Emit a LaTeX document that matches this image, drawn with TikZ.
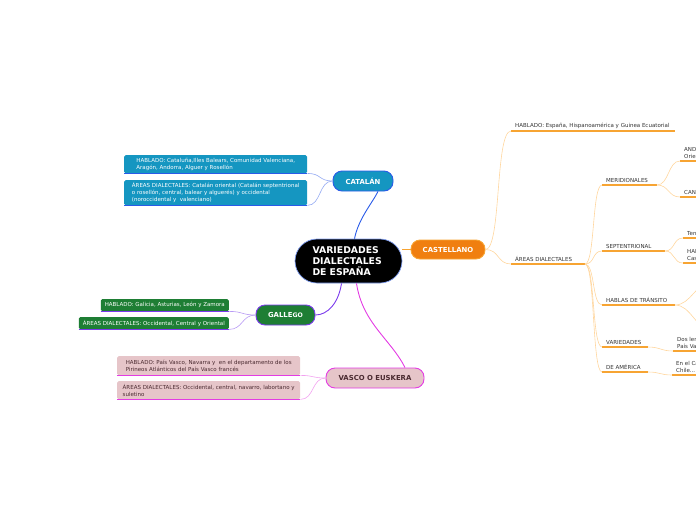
\documentclass[tikz,border=0pt]{standalone}
\usepackage{fontspec}
\setmainfont{DejaVu Sans}
\usetikzlibrary{calc}
\definecolor{catfill}{HTML}{1596C1}
\definecolor{catline}{HTML}{2A5BE8}
\definecolor{catlight}{HTML}{93A9F2}
\definecolor{galfill}{HTML}{1E7E34}
\definecolor{galline}{HTML}{7B3AEC}
\definecolor{gallight}{HTML}{B89AF4}
\definecolor{vasfill}{HTML}{E6C5C9}
\definecolor{vasline}{HTML}{E33CE3}
\definecolor{vaslight}{HTML}{F2A2F0}
\definecolor{vastext}{HTML}{4A2A30}
\definecolor{casfill}{HTML}{F07F10}
\definecolor{casline}{HTML}{F7A432}
\definecolor{caslight}{HTML}{FFD69E}
\definecolor{darktext}{HTML}{333333}
\newcommand{\leaffont}{\fontsize{5.5}{7}\selectfont}

\begin{document}
\begin{tikzpicture}[x=1pt, y=-1pt,
  every node/.style={align=left},
  mainnode/.style={draw, line width=0.9pt, rounded corners=9pt, minimum height=20pt, inner sep=0pt, text=white, font=\bfseries\fontsize{6.9}{8}\selectfont},
  leafbox/.style={rounded corners=1.5pt, inner xsep=4pt, inner ysep=1pt, font=\leaffont},
  subtext/.style={inner xsep=4pt, inner ysep=2.4pt, anchor=south west, font=\leaffont, text=darktext},
  uline/.style={line width=1.3pt, draw=casline},
  clink/.style={line width=0.6pt, draw=caslight},
  leaflink/.style={line width=0.6pt}]
  \useasboundingbox (0,0) rectangle (696,520);
  \clip (0,0) rectangle (696,520);

  % central topic
  \node[draw=catline!60, line width=0.7pt, fill=black, rounded corners=22pt, minimum width=107pt, minimum height=44pt, inner sep=0pt, text=white, font=\bfseries\fontsize{9.3}{11}\selectfont, text width=72pt] (var) at (348.5,261) {VARIEDADES\\DIALECTALES\\DE ESPAÑA};

  % main topics
  \node[mainnode, fill=casfill, draw=casline, minimum width=74pt, minimum height=19pt] (cas) at (448,249.5) {CASTELLANO};
  \node[mainnode, fill=catfill, draw=catline, minimum width=60pt] (cat) at (363,181) {CATALÁN};
  \node[mainnode, fill=galfill, draw=galline, minimum width=59pt] (gal) at (285.5,315) {GALLE{\fontsize{6.2}{7}\selectfont\raisebox{-0.6pt}{GO}}};
  \node[mainnode, fill=vasfill, draw=vasline, minimum width=98pt, text=vastext] (vas) at (375,378) {VASCO O EUSKERA};

  \draw[catline, line width=0.9pt] ($(var.north)+(6,0)$) .. controls +(4,-20) and +(-6,12) .. ($(cat.south)+(15,0)$);
  \draw[casline, line width=0.9pt] (var.east |- cas.west) -- (cas.west);
  \draw[galline, line width=0.9pt] ($(var.south)+(-7,0)$) .. controls +(-3,20) and +(12,0) .. (gal.east);
  \draw[vasline, line width=0.9pt] ($(var.south)+(8,0)$) .. controls +(6,40) and +(-14,-28) .. ($(vas.north)+(30,0)$);

  % catalan
  \node[leafbox, fill=catfill, text=white, anchor=north west, minimum width=183pt, minimum height=18pt] (cathab) at (124,155) {HABLADO: Cataluña,Illes Balears, Comunidad Valenciana,\\Aragón, Andorra, Alguer y Rosellón};
  \node[leafbox, fill=catfill, text=white, anchor=north west, minimum width=183pt, minimum height=25pt] (catar) at (124,180) {ÁREAS DIALECTALES: Catalán oriental (Catalán septentrional\\o rosellón, central, balear y alguerés) y occidental\\(noroccidental y\ \ valenciano)};
  \foreach \n in {cathab,catar}
    \draw[catline, line width=1.3pt] (\n.south west) -- (\n.south east);
  \draw[leaflink, catlight] (cat.west) .. controls +(-14,0) and +(14,0) .. (cathab.south east);
  \draw[leaflink, catlight] (cat.west) .. controls +(-14,0) and +(14,0) .. (catar.south east);

  % gallego
  \node[leafbox, fill=galfill, text=white, anchor=north east, minimum height=12pt] (galhab) at (229,299) {HABLADO: Galicia, Asturias, León y Zamora};
  \node[leafbox, fill=galfill, text=white, anchor=north east, minimum height=12pt] (galar) at (229,317) {ÁREAS DIALECTALES: Occidental, Central y Oriental};
  \foreach \n in {galhab,galar}
    \draw[galline, line width=1.3pt] (\n.south west) -- (\n.south east);
  \draw[leaflink, gallight] (gal.west) .. controls +(-14,0) and +(14,0) .. (galhab.south east);
  \draw[leaflink, gallight] (gal.west) .. controls +(-14,0) and +(14,0) .. (galar.south east);

  % vasco
  \node[leafbox, fill=vasfill, text=vastext, anchor=north west, minimum width=183pt, minimum height=19pt] (vashab) at (117,356) {HABLADO: País Vasco, Navarra y\ \ en el departamento de los\\Pirineos Atlánticos del País Vasco francés};
  \node[leafbox, fill=vasfill, text=vastext, anchor=north west, minimum width=183pt, minimum height=18pt] (vasar) at (117,381) {ÁREAS DIALECTALES: Occidental, central, navarro, labortano y\\suletino};
  \foreach \n in {vashab,vasar}
    \draw[vasline, line width=1.3pt] (\n.south west) -- (\n.south east);
  \draw[leaflink, vaslight] (vas.west) .. controls +(-14,0) and +(14,0) .. (vashab.south east);
  \draw[leaflink, vaslight] (vas.west) .. controls +(-14,0) and +(14,0) .. (vasar.south east);

  % castellano
  \node[subtext] (hab) at (511,131) {HABLADO: España, Hispanoamérica y Guinea Ecuatorial};
  \node[subtext] (areas) at (511,264) {ÁREAS DIALECTALES};
  \node[subtext] (merid) at (602,185) {MERIDIONALES};
  \node[subtext] (sept) at (602,251) {SEPTENTRIONAL};
  \node[subtext] (trans) at (602,305) {HABLAS DE TRÁNSITO};
  \node[subtext] (varie) at (602,347) {VARIEDADES};
  \node[subtext] (amer) at (602,372) {DE AMÉRICA};
  \node[subtext] (andal) at (680,161) {ANDALUZ: Occidental y\\Oriental};
  \node[subtext] (canar) at (680,197) {CANARIO};
  \node[subtext] (terr) at (683,238) {Territorio};
  \node[subtext] (hab2) at (683,263) {HABLADO\\Castilla};
  \node[subtext] (dos) at (673,351) {Dos lenguas\\País Vasco};
  \node[subtext] (enel) at (672,375) {En el Caribe\\Chile...};
  \coordinate (trans1) at (712,282);
  \coordinate (trans2) at (712,330);

  \draw[uline] (hab.south west) -- ++(164,0) coordinate (hab-e);
  \draw[uline] (areas.south west) -- ++(74,0) coordinate (areas-e);
  \draw[uline] (merid.south west) -- ++(55,0) coordinate (merid-e);
  \draw[uline] (sept.south west) -- ++(63,0) coordinate (sept-e);
  \draw[uline] (trans.south west) -- ++(73,0) coordinate (trans-e);
  \draw[uline] (varie.south west) -- ++(46,0) coordinate (varie-e);
  \draw[uline] (amer.south west) -- ++(46,0) coordinate (amer-e);
  \foreach \n in {andal,canar,terr,hab2,dos,enel}
    \draw[uline] (\n.south west) -- ++(40,0);

  \draw[clink] (cas.east) .. controls +(16,0) and +(-16,0) .. (hab.south west);
  \draw[clink] (cas.east) .. controls +(14,0) and +(-14,0) .. (areas.south west);
  \foreach \n in {merid,sept,trans,varie,amer}
    \draw[clink] (areas-e) .. controls +(10,0) and +(-10,0) .. (\n.south west);
  \draw[clink] (merid-e) .. controls +(12,0) and +(-12,0) .. (andal.south west);
  \draw[clink] (merid-e) .. controls +(12,0) and +(-12,0) .. (canar.south west);
  \draw[clink] (sept-e) .. controls +(10,0) and +(-10,0) .. (terr.south west);
  \draw[clink] (sept-e) .. controls +(10,0) and +(-10,0) .. (hab2.south west);
  \draw[clink] (trans-e) .. controls +(16,0) and +(-16,0) .. (trans1);
  \draw[clink] (trans-e) .. controls +(16,0) and +(-16,0) .. (trans2);
  \draw[clink] (varie-e) .. controls +(12,0) and +(-12,0) .. (dos.south west);
  \draw[clink] (amer-e) .. controls +(12,0) and +(-12,0) .. (enel.south west);
\end{tikzpicture}
\end{document}
